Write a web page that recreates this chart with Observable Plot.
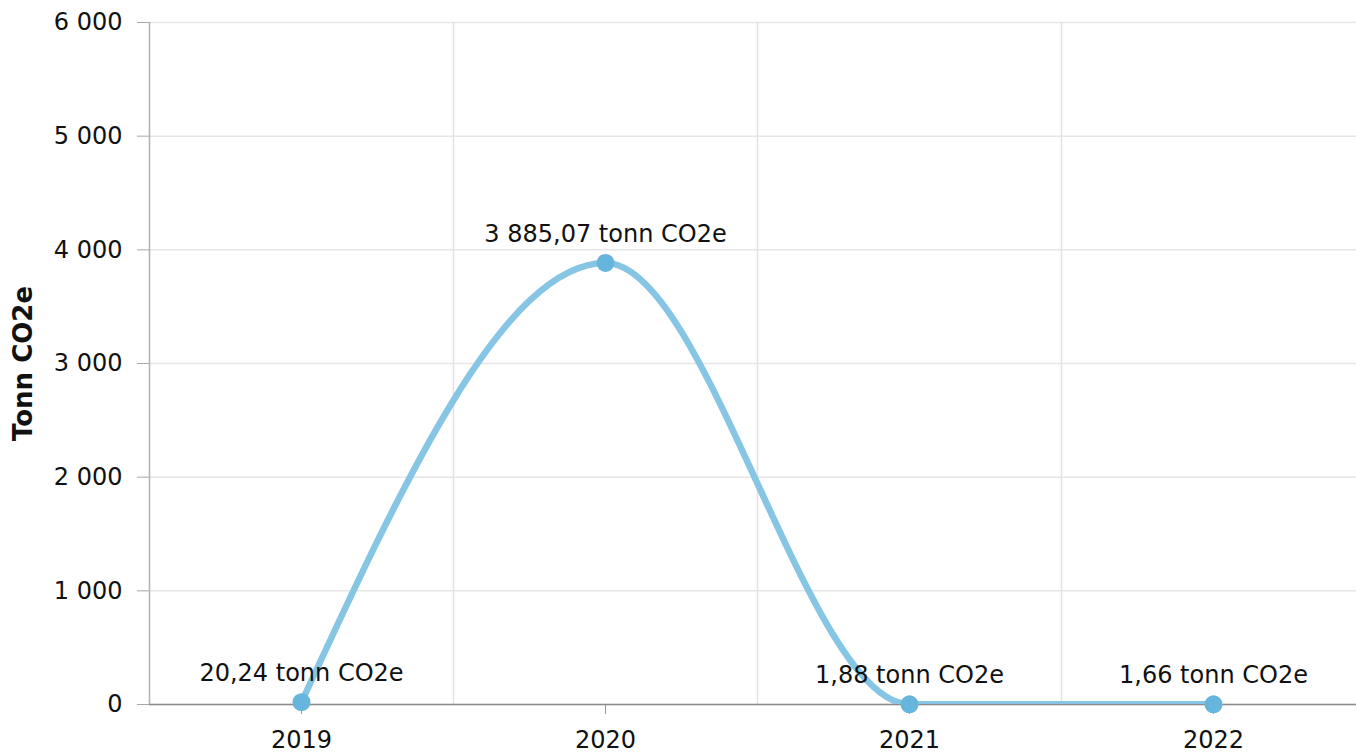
<!DOCTYPE html>
<html>
<head>
<meta charset="utf-8">
<script src="https://cdn.jsdelivr.net/npm/d3@7"></script>
<script src="https://cdn.jsdelivr.net/npm/@observablehq/plot@0.6"></script>
<style>
  html, body { margin: 0; padding: 0; background: #fff; }
  #chart svg { display: block; }
</style>
</head>
<body>
<div id="chart"></div>
<script>
const years = ["2019", "2020", "2021", "2022"];
const values = [20.24, 3885.07, 1.88, 1.66];
const yTicks = [0, 1000, 2000, 3000, 4000, 5000, 6000];
const unit = "tonn CO2e";
const yTitle = "Tonn CO2e";

const locale = d3.formatLocale({decimal: ",", thousands: " ", grouping: [3], currency: ["", ""]});
const fmtTick = locale.format(",");
const fmtVal = locale.format(",.2f");

const data = years.map((year, i) => ({year, value: values[i]}));

const W = 1356, H = 753;
const mL = 149, mT = 22, mB = 49;
const xRange = [mL, 1365];
const bw = (xRange[1] - xRange[0]) / years.length;

const chart = Plot.plot({
  width: W,
  height: H,
  marginLeft: mL,
  marginRight: 0,
  marginTop: mT,
  marginBottom: mB,
  style: {fontFamily: "'DejaVu Sans', Verdana, sans-serif", fontSize: "24px", color: "#111", background: "#fff"},
  x: {type: "band", domain: years, range: xRange, padding: 0},
  y: {domain: [0, 6000]},
  marks: [
    Plot.ruleY(yTicks, {stroke: "#e6e6e6", strokeWidth: 1.5}),
    Plot.ruleX(years.slice(1), {x: d => d, dx: -bw / 2, y1: 0, y2: 6000, stroke: "#e2e2e2", strokeWidth: 1.5}),
    Plot.axisY({ticks: yTicks, tickFormat: fmtTick, tickSize: 12, tickPadding: 15, stroke: "#a8a8a8", fill: "#111", fontSize: 24, label: null}),
    Plot.axisX({tickSize: 10, tickPadding: 16, stroke: "#999", fill: "#111", fontSize: 24, label: null}),
    Plot.ruleX([years[0]], {x: d => d, dx: -bw / 2, y1: 0, y2: 6000, stroke: "#b0b0b0", strokeWidth: 1.5}),
    Plot.ruleY([0], {stroke: "#8c8c8c", strokeWidth: 1.5}),
    Plot.line(data, {x: "year", y: "value", curve: "monotone-x", stroke: "#86c5e4", strokeWidth: 6.5, clip: true}),
    Plot.dot(data, {x: "year", y: "value", r: 9, fill: "#66b5dd", stroke: "none"}),
    Plot.text(data, {x: "year", y: "value", text: d => fmtVal(d.value) + " " + unit, dy: -29, fontSize: 24, fill: "#111", textAnchor: "middle"}),
    Plot.text([yTitle], {frameAnchor: "left", dx: -126, rotate: -90, fontWeight: "bold", fontSize: 26, fill: "#111", textAnchor: "middle"})
  ]
});

document.getElementById("chart").appendChild(chart);
</script>
</body>
</html>
